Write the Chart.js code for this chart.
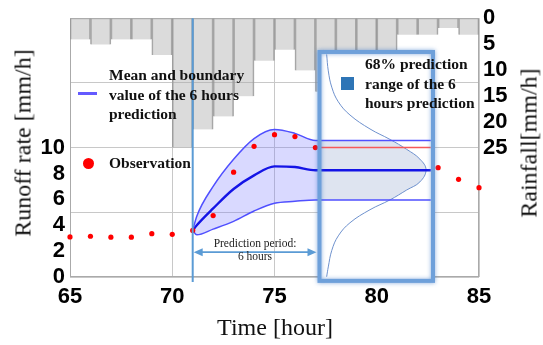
<!DOCTYPE html>
<html>
<head>
<meta charset="utf-8">
<script src="https://cdn.jsdelivr.net/npm/chart.js@4.4.0/dist/chart.umd.min.js"></script>
<style>
body { margin: 0; background: #fff; }
#wrap { position: relative; width: 543px; height: 345px; font-family: "Liberation Serif", "Times New Roman", serif; color: #111; }
#wrap canvas { position: absolute; left: 0; top: 0; }
.t { position: absolute; white-space: nowrap; }
.leg { font-weight: bold; font-size: 15.5px; line-height: 19.5px; }
.axt { font-size: 24px; transform: translate(-50%, -50%); }
</style>
</head>
<body>
<div id="wrap">
  <canvas id="chart" width="543" height="345"></canvas>
  <div class="t" style="left:78px;top:92px;width:19px;height:3px;background:rgb(100,90,255)"></div>
  <div class="t leg" style="left:109px;top:65px">Mean and boundary<br>value of the 6 hours<br>prediction</div>
  <div class="t" style="left:82.5px;top:157.5px;width:11px;height:11px;border-radius:50%;background:#f00"></div>
  <div class="t leg" style="left:109px;top:153px">Observation</div>
  <div class="t" style="left:341px;top:77px;width:12.5px;height:13px;background:#2e75b6"></div>
  <div class="t leg" style="left:365px;top:54px">68% prediction<br>range of the 6<br>hours prediction</div>
  <div class="t" style="left:205px;top:237px;width:100px;text-align:center;font-size:11.5px;line-height:13px;color:#222">Prediction period:<br>6 hours</div>
  <div class="t axt" style="left:23px;top:143px;transform:translate(-50%,-50%) rotate(-90deg)">Runoff rate [mm/h]</div>
  <div class="t axt" style="left:529px;top:143px;transform:translate(-50%,-50%) rotate(-90deg)">Rainfall[mm/h]</div>
  <div class="t axt" style="left:275px;top:327px">Time [hour]</div>
</div>
<script>
// rainfall per hour (bars, drawn on the reversed right axis)
const rainHours = [65.5, 66.5, 67.5, 68.5, 69.5, 70.5, 71.5, 72.5, 73.5, 74.5, 75.5, 76.5, 77.5, 78.5, 79.5, 80.5, 81.5, 82.5, 83.5, 84.5];
const rainfall  = [4.1, 5.1, 4.1, 4.1, 7.1, 25, 21.5, 19, 15.1, 8.2, 6.1, 10.1, 14.2, 10, 8, 7, 3.2, 3.2, 1.9, 3.2];

// observed runoff (hours 78-82 are hidden behind the box)
const obsHours = [65, 66, 67, 68, 69, 70, 71, 72, 73, 74, 75, 76, 77, 83, 84, 85];
const observed = [3.1, 3.15, 3.08, 3.08, 3.35, 3.3, 3.6, 4.75, 8.1, 10.1, 11.0, 10.85, 10.0, 8.45, 7.55, 6.9];

// 6 hour prediction
const predHours = [71, 71.2, 72, 73, 74, 75, 76, 77, 82.64];
const predUpper = [3.6, 4.7, 7.0, 9.1, 10.7, 11.4, 11.1, 10.55, 10.55];
const predMean  = [3.6, 4.0, 5.3, 6.8, 7.85, 8.55, 8.5, 8.25, 8.25];
const predLower = [3.6, 3.26, 3.7, 4.3, 5.1, 5.7, 5.85, 5.96, 5.96];
const lastObsHours = [77, 82.64];
const lastObs = [10.0, 10.0];

// density curve of the prediction
const densityHours  = [77.55, 77.63, 77.80, 78.12, 78.69, 79.67, 80.65, 81.46, 82.11, 82.41, 82.11, 81.46, 80.65, 79.67, 78.69, 78.12, 77.80, 77.63, 77.55];
const densityRunoff = [17.2, 15.93, 14.67, 13.54, 12.52, 11.44, 10.63, 9.87, 9.11, 8.28, 7.35, 6.72, 5.96, 5.2, 4.19, 3.18, 2.05, 0.78, 0.02];

const timeTicks = [65, 70, 75, 80, 85];
const runoffTicks = [0, 2, 4, 6, 8, 10];
const runoffGrid = [0, 5, 10, 15, 20];
const rainTicks = [0, 5, 10, 15, 20, 25];

const predStart = 71;
const boxHours = [77.2, 82.75];
const boxRunoff = [-0.3, 17.39];
const arrowRunoff = 1.92;

function pts(xs, ys) { return xs.map((x, i) => ({ x: x, y: ys[i] })); }

const tickFont = { family: 'Liberation Sans', weight: 'bold', size: 22 };
const GRID = '#c8c8c8';

const overlay = {
  id: 'overlay',
  beforeDatasetsDraw(chart) {
    const ctx = chart.ctx, a = chart.chartArea;
    ctx.save();
    ctx.strokeStyle = '#aaaaaa';
    ctx.lineWidth = 1;
    ctx.strokeRect(a.left + 0.5, a.top + 0.5, a.width - 1, a.height - 1);
    ctx.restore();
  },
  afterDatasetDraw(chart, args) {
    if (args.index !== 1) return;
    const ctx = chart.ctx, x = chart.scales.x, y = chart.scales.y;
    const l = x.getPixelForValue(boxHours[0]), r = x.getPixelForValue(boxHours[1]);
    const t = y.getPixelForValue(boxRunoff[1]), b = y.getPixelForValue(boxRunoff[0]);
    ctx.save();
    ctx.fillStyle = '#fff';
    ctx.fillRect(l, t, r - l, b - t);
    // 68% part under the density curve
    const p = chart.getDatasetMeta(6).data;
    const yTop = y.getPixelForValue(predUpper[predUpper.length - 1]);
    const yBot = y.getPixelForValue(predLower[predLower.length - 1]);
    ctx.beginPath();
    ctx.rect(l, yTop, r - l, yBot - yTop);
    ctx.clip();
    ctx.beginPath();
    ctx.moveTo(l, p[0].y);
    ctx.lineTo(p[0].x, p[0].y);
    for (let i = 1; i < p.length; i++) {
      ctx.bezierCurveTo(p[i - 1].cp2x, p[i - 1].cp2y, p[i].cp1x, p[i].cp1y, p[i].x, p[i].y);
    }
    ctx.lineTo(l, p[p.length - 1].y);
    ctx.closePath();
    ctx.fillStyle = 'rgba(50,90,160,0.16)';
    ctx.fill();
    ctx.restore();
  },
  afterDatasetsDraw(chart) {
    const ctx = chart.ctx, x = chart.scales.x, y = chart.scales.y, a = chart.chartArea;
    const l = x.getPixelForValue(boxHours[0]), r = x.getPixelForValue(boxHours[1]);
    const t = y.getPixelForValue(boxRunoff[1]), b = y.getPixelForValue(boxRunoff[0]);
    ctx.save();
    // box border with glow
    ctx.shadowColor = 'rgba(60,120,200,0.6)';
    ctx.shadowBlur = 4;
    ctx.strokeStyle = 'rgb(110,160,218)';
    ctx.lineWidth = 4;
    ctx.strokeRect(l, t, r - l, b - t);
    ctx.shadowBlur = 0;
    // start of prediction
    const xs = x.getPixelForValue(predStart);
    ctx.strokeStyle = '#5b9bd5';
    ctx.lineWidth = 2;
    ctx.beginPath();
    ctx.moveTo(xs, a.top);
    ctx.lineTo(xs, a.bottom + 5);
    ctx.stroke();
    // double arrow
    const ya = y.getPixelForValue(arrowRunoff);
    const x0 = xs + 1, x1 = l - 3;
    ctx.lineWidth = 1.8;
    ctx.beginPath();
    ctx.moveTo(x0 + 6, ya);
    ctx.lineTo(x1 - 6, ya);
    ctx.stroke();
    ctx.fillStyle = '#5b9bd5';
    ctx.beginPath();
    ctx.moveTo(x0, ya); ctx.lineTo(x0 + 9, ya - 4); ctx.lineTo(x0 + 9, ya + 4); ctx.closePath();
    ctx.fill();
    ctx.beginPath();
    ctx.moveTo(x1, ya); ctx.lineTo(x1 - 9, ya - 4); ctx.lineTo(x1 - 9, ya + 4); ctx.closePath();
    ctx.fill();
    ctx.restore();
  }
};

new Chart(document.getElementById('chart'), {
  type: 'line',
  data: {
    datasets: [
      {
        type: 'bar', data: pts(rainHours, rainfall), yAxisID: 'y2', order: 10,
        backgroundColor: 'rgba(170,170,170,0.42)', borderColor: 'rgba(150,150,150,0.85)',
        borderWidth: { left: 1, right: 1, top: 0, bottom: 0 }, borderSkipped: false,
        barPercentage: 1, categoryPercentage: 1, grouped: false
      },
      {
        data: pts(predHours, predUpper), order: 9, fill: '+1',
        backgroundColor: 'rgba(120,120,255,0.28)', borderWidth: 0, borderColor: 'rgba(0,0,0,0)',
        pointRadius: 0, cubicInterpolationMode: 'monotone'
      },
      { data: pts(predHours, predLower), order: 5, borderColor: 'rgb(80,80,255)', borderWidth: 1.5, pointRadius: 0, cubicInterpolationMode: 'monotone', fill: false },
      { data: pts(predHours, predUpper), order: 5, borderColor: 'rgb(80,80,255)', borderWidth: 1.5, pointRadius: 0, cubicInterpolationMode: 'monotone', fill: false },
      { data: pts(predHours, predMean), order: 5, borderColor: 'rgb(20,20,230)', borderWidth: 2.4, pointRadius: 0, cubicInterpolationMode: 'monotone', fill: false },
      { data: pts(lastObsHours, lastObs), order: 5, borderColor: 'rgb(245,90,90)', borderWidth: 1.5, pointRadius: 0, fill: false },
      { data: pts(densityHours, densityRunoff), order: 5, borderColor: 'rgb(110,145,205)', borderWidth: 1, pointRadius: 0, tension: 0.4, fill: false },
      {
        data: pts(obsHours, observed), order: 1, showLine: false, clip: false,
        pointRadius: 2.6, pointBackgroundColor: '#ff0000', pointBorderWidth: 0
      }
    ]
  },
  options: {
    responsive: false,
    animation: false,
    devicePixelRatio: 1,
    layout: { padding: { top: 13, left: 0, right: 0, bottom: 0 } },
    plugins: { legend: { display: false }, tooltip: { enabled: false }, filler: { drawTime: 'beforeDatasetDraw' } },
    scales: {
      x: {
        type: 'linear', min: 65, max: 85, offset: false,
        afterBuildTicks: s => { s.ticks = timeTicks.map(v => ({ value: v })); },
        ticks: { font: tickFont, color: '#000', padding: 7, maxRotation: 0, autoSkip: false },
        grid: { color: GRID, drawTicks: false, offset: false },
        border: { display: false },
        afterFit: s => { s.height = 68; }
      },
      y: {
        position: 'left', min: 0, max: 20,
        afterBuildTicks: s => {
          const v = runoffTicks.concat(runoffGrid).filter((d, i, arr) => arr.indexOf(d) === i).sort((p, q) => p - q);
          s.ticks = v.map(d => ({ value: d }));
        },
        ticks: { font: tickFont, color: '#000', padding: 5, callback: v => runoffTicks.includes(v) ? String(v) : '' },
        grid: { color: c => (c.tick && runoffGrid.includes(c.tick.value)) ? GRID : 'rgba(0,0,0,0)', drawTicks: false },
        border: { display: false },
        afterFit: s => { s.width = 70; }
      },
      y2: {
        position: 'right', min: 0, max: 50, reverse: true,
        afterBuildTicks: s => { s.ticks = rainTicks.map(v => ({ value: v })); },
        ticks: { font: tickFont, color: '#000', padding: 4 },
        grid: { display: false, drawTicks: false },
        border: { display: false },
        afterFit: s => { s.width = 64; }
      }
    }
  },
  plugins: [overlay]
});
</script>
</body>
</html>
